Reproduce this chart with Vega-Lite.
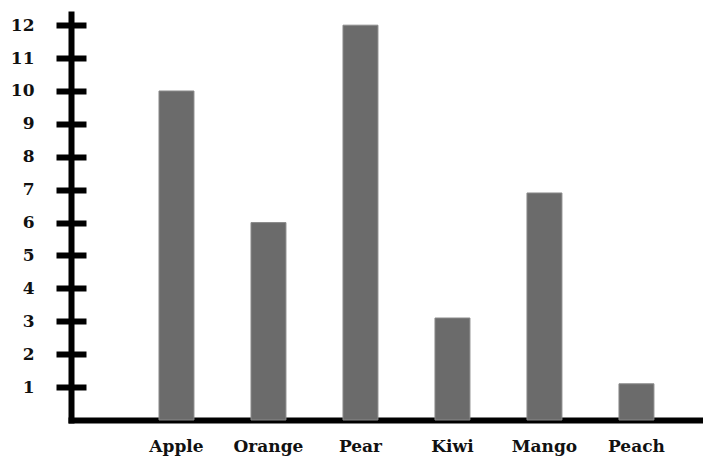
{
  "$schema": "https://vega.github.io/schema/vega-lite/v6.json",
  "autosize": {"type": "none"},
  "padding": {"left": 71, "top": 14, "right": 0, "bottom": 37},
  "width": 632,
  "height": 406,
  "background": "white",
  "data": {"values": [
    {"fruit": "Apple", "value": 10},
    {"fruit": "Orange", "value": 6},
    {"fruit": "Pear", "value": 12},
    {"fruit": "Kiwi", "value": 3.1},
    {"fruit": "Mango", "value": 6.9},
    {"fruit": "Peach", "value": 1.1}
  ]},
  "mark": {"type": "bar", "color": "#6b6b6b", "stroke": "#8a8a8a", "strokeWidth": 1},
  "encoding": {
    "x": {
      "field": "fruit", "type": "nominal", "sort": null,
      "scale": {"paddingInner": 0.62, "paddingOuter": 0.745, "align": 0.642},
      "axis": {
        "title": null, "labelAngle": 0, "ticks": false,
        "domainColor": "black", "domainWidth": 6, "domainCap": "square",
        "labelFont": "DejaVu Serif", "labelFontWeight": "bold", "labelFontSize": 17,
        "labelColor": "#111", "labelPadding": 18
      }
    },
    "y": {
      "field": "value", "type": "quantitative",
      "scale": {"domain": [0, 12.34], "nice": false, "zero": true},
      "axis": {
        "title": null,
        "values": [1, 2, 3, 4, 5, 6, 7, 8, 9, 10, 11, 12],
        "domainColor": "black", "domainWidth": 6, "domainCap": "square",
        "tickColor": "black", "tickWidth": 6, "tickSize": 15,
        "grid": true, "gridColor": "black", "gridWidth": 6, "gridDash": [15, 3000], "gridOpacity": 1,
        "labelFont": "DejaVu Serif", "labelFontWeight": "bold", "labelFontSize": 17,
        "labelColor": "#111", "labelPadding": 22
      }
    }
  },
  "config": {"view": {"stroke": null}}
}
